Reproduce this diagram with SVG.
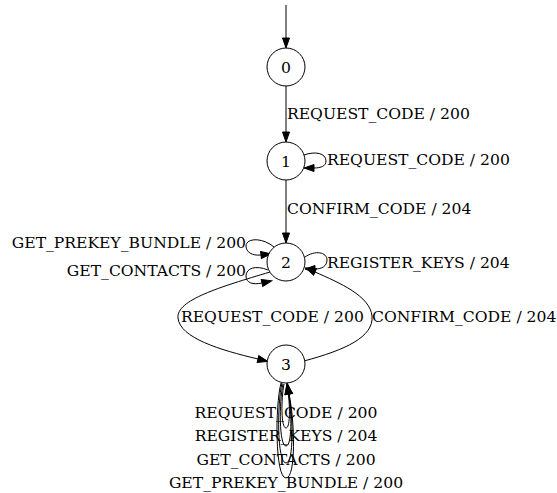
<svg xmlns="http://www.w3.org/2000/svg" width="557" height="493" viewBox="0 0 557 493">
  <style>
    .node circle { fill: #ffffff; stroke: #000000; stroke-width: 1; }
    .node text, .label { font-family: "DejaVu Serif", "Liberation Serif", serif; font-size: 15.6px; fill: #000000; }
    .node text { text-anchor: middle; }
    .edge { fill: none; stroke: #000000; stroke-width: 1; marker-end: url(#arrow); }
  </style>
  <defs>
    <marker id="arrow" markerUnits="userSpaceOnUse" markerWidth="10" markerHeight="8" refX="0" refY="3.5" orient="auto" overflow="visible">
      <path d="M0,0 L10,3.5 L0,7 Z" fill="#000000" stroke="#000000" stroke-width="1"/>
    </marker>
  </defs>

  <rect width="557" height="493" fill="#ffffff"/>

  <g id="connectors">
    <!-- entry arrow -->
    <path class="edge" d="M286,5 L286,38"/>
    <!-- 0 -> 1 -->
    <path class="edge" d="M286,86 L286,132"/>
    <!-- 1 -> 1 -->
    <path class="edge" d="M304,155 C315,151 326,153 326,161 C326,166 321,168 314,168"/>
    <!-- 1 -> 2 -->
    <path class="edge" d="M286,180 L286,233"/>
    <!-- 2 -> 2 (right) -->
    <path class="edge" d="M305,257 C315,250 327,252 327,260 C327,266 322,269 315,269"/>
    <!-- 2 -> 2 (upper left) -->
    <path class="edge" d="M274,247 C262,237 246,238 246,246 C246,252 252,256 261,255"/>
    <!-- 2 -> 2 (lower left) -->
    <path class="edge" d="M268,270 C256,265 246,268 246,276 C246,283 253,285 262,283"/>
    <!-- 2 -> 3 -->
    <path class="edge" d="M270,272 C220,287 176,300 178,318 C180,338 220,350 258,359"/>
    <!-- 3 -> 2 -->
    <path class="edge" d="M304,361 C345,350 374,337 372,316 C370,296 340,283 315,272"/>
    <!-- 3 -> 3 (four loops below) -->
    <path class="edge" d="M284,384 C281,400 281,428 286,428 C290,428 290,410 288.5,394"/>
    <path class="edge" d="M283,384 C279,402 279,446 286,446 C292,446 292,414 288.5,394"/>
    <path class="edge" d="M282,383 C277,404 277,463 286,463 C294,463 293,418 289,394"/>
    <path class="edge" d="M281,383 C275,406 275,478 286,478 C296,478 295,422 289,394"/>
  </g>

  <g id="edge-labels">
    <text class="label" x="287" y="119">REQUEST_CODE / 200</text>
    <text class="label" x="327" y="165">REQUEST_CODE / 200</text>
    <text class="label" x="287" y="214">CONFIRM_CODE / 204</text>
    <text class="label" x="327" y="268">REGISTER_KEYS / 204</text>
    <text class="label" x="246" y="248" text-anchor="end">GET_PREKEY_BUNDLE / 200</text>
    <text class="label" x="246" y="276" text-anchor="end">GET_CONTACTS / 200</text>
    <text class="label" x="181" y="322">REQUEST_CODE / 200</text>
    <text class="label" x="372" y="322">CONFIRM_CODE / 204</text>
    <text class="label" x="286" y="418" text-anchor="middle">REQUEST_CODE / 200</text>
    <text class="label" x="286" y="441" text-anchor="middle">REGISTER_KEYS / 204</text>
    <text class="label" x="286" y="465" text-anchor="middle">GET_CONTACTS / 200</text>
    <text class="label" x="286" y="488" text-anchor="middle">GET_PREKEY_BUNDLE / 200</text>
  </g>

  <g id="node-0" class="node"><circle cx="286" cy="67" r="19"/><text x="286" y="72.5">0</text></g>
  <g id="node-1" class="node"><circle cx="286" cy="161" r="19"/><text x="286" y="166.5">1</text></g>
  <g id="node-2" class="node"><circle cx="286" cy="262" r="19"/><text x="286" y="267.5">2</text></g>
  <g id="node-3" class="node"><circle cx="286" cy="364" r="19"/><text x="286" y="369.5">3</text></g>
</svg>
